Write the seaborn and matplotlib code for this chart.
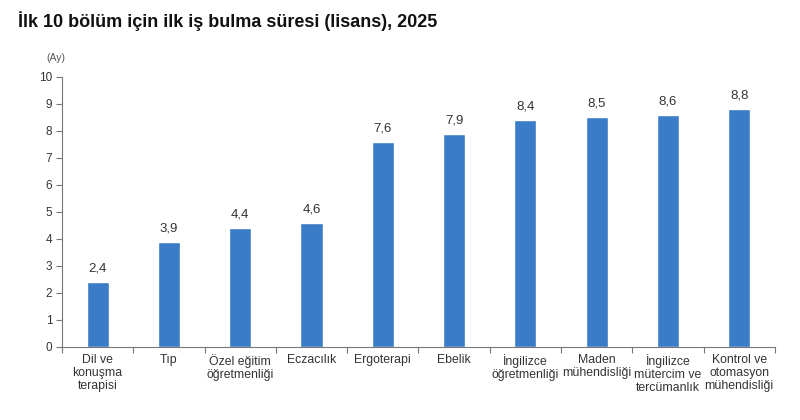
import matplotlib
matplotlib.use("Agg")
import matplotlib.pyplot as plt
import seaborn as sns
import numpy as np
import pandas as pd

# ilk 10 bölüm, lisans, ay cinsinden
bolumler = [
    "Dil ve\nkonuşma\nterapisi",
    "Tıp",
    "Özel eğitim\nöğretmenliği",
    "Eczacılık",
    "Ergoterapi",
    "Ebelik",
    "İngilizce\nöğretmenliği",
    "Maden\nmühendisliği",
    "İngilizce\nmütercim ve\ntercümanlık",
    "Kontrol ve\notomasyon\nmühendisliği",
]
sureler = [2.4, 3.9, 4.4, 4.6, 7.6, 7.9, 8.4, 8.5, 8.6, 8.8]
y_ticks = list(range(0, 11))

df = pd.DataFrame({"bolum": bolumler, "sure": sureler})

sns.set_style("white")
plt.rcParams["font.family"] = ["Liberation Sans", "DejaVu Sans"]

fig = plt.figure(figsize=(8, 4.2), dpi=100)
ax = fig.add_axes([0.0775, 0.174, 0.891, 0.643])

sns.barplot(data=df, x="bolum", y="sure", color="#3b7cc8", width=0.31,
            saturation=1, ax=ax)

for i, v in enumerate(sureler):
    ax.text(i, v + 0.28, f"{v:.1f}".replace(".", ","), ha="center",
            va="bottom", fontsize=9.5, color="#333333")

ax.set_ylim(0, 10)
ax.set_xlim(-0.5, len(bolumler) - 0.5)
ax.set_yticks(y_ticks)
ax.set_xlabel("")
ax.set_ylabel("")
ax.tick_params(axis="y", labelsize=8.5, colors="#333333", length=4,
               width=0.8, direction="out", left=True, pad=3)
ax.tick_params(axis="x", which="major", length=0, labelsize=8.8,
               labelcolor="#333333", pad=5)
for lab in ax.get_xticklabels():
    lab.set_linespacing(1.12)
ax.set_xticks(np.arange(-0.5, len(bolumler), 1), minor=True)
ax.tick_params(axis="x", which="minor", length=4, width=0.8,
               color="#777777", direction="out", bottom=True)
for s in ["top", "right"]:
    ax.spines[s].set_visible(False)
for s in ["left", "bottom"]:
    ax.spines[s].set_color("#777777")
    ax.spines[s].set_linewidth(0.8)
ax.tick_params(axis="y", color="#777777")

fig.text(0.022, 0.935, "İlk 10 bölüm için ilk iş bulma süresi (lisans), 2025",
         fontsize=13, fontweight="bold", color="#111111")
fig.text(0.058, 0.855, "(Ay)", fontsize=7.5, color="#555555")

fig.savefig("out.png", dpi=100, facecolor="white")
